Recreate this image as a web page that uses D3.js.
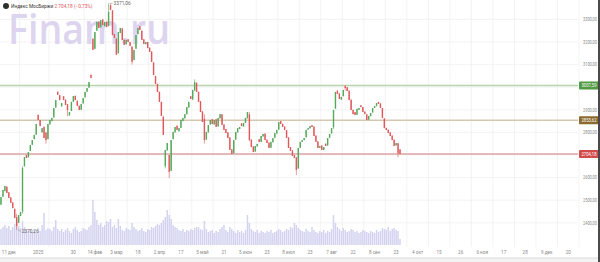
<!DOCTYPE html>
<html>
<head>
<meta charset="utf-8">
<script src="https://cdn.jsdelivr.net/npm/d3@7"></script>
<style>
html,body{margin:0;padding:0;background:#fff;overflow:hidden;}
svg{display:block;font-family:Roboto,"Noto Sans",sans-serif;}
</style>
</head>
<body>
<div id="chart"></div>
<script>
// daily candles of the index, Dec 2024 .. Sep 2025
let opens= [
2480,2515,2540,2560,2535,2512,2490,2462,2425,2400,
2430,2450,2650,2700,2690,2718,2745,2770,2790,2878,
2855,2800,2825,2800,2770,2835,2850,2866,2910,2980,
2965,2915,2960,2945,2925,2875,2895,2935,2962,2940,
2918,2900,2928,2955,2980,2998,3055,3215,3170,3250,
3290,3265,3300,3270,3290,3270,3365,3340,3235,3215,
3150,3240,3260,3210,3190,3212,3200,3180,3120,3170,
3235,3270,3250,3212,3190,3200,3175,3158,3110,3050,
3015,2980,2935,2870,2650,2720,2700,2630,2770,2800,
2830,2805,2820,2850,2862,2880,2910,2960,2945,2985,
3020,2980,2938,2893,2860,2768,2800,2835,2858,2835,
2858,2826,2862,2880,2835,2815,2800,2778,2725,2708,
2768,2800,2815,2840,2826,2842,2862,2880,2768,2738,
2715,2738,2770,2758,2782,2795,2768,2755,2732,2756,
2776,2795,2812,2850,2838,2826,2810,2778,2735,2720,
2700,2690,2640,2732,2758,2766,2778,2812,2818,2832,
2826,2786,2760,2732,2742,2722,2750,2742,2776,2795,
2822,2905,2985,2972,2945,2960,3005,3000,2985,2945,
2900,2890,2878,2900,2920,2912,2892,2880,2856,2872,
2888,2908,2916,2935,2928,2908,2862,2820,2812,2800,
2786,2768,2742,2752,2725
];
let closes= [
2514,2545,2563,2532,2510,2488,2465,2421,2386,2434,
2448,2642,2691,2687,2713,2744,2766,2789,2837,2855,
2828,2819,2775,2766,2837,2855,2864,2908,2943,2966,
2943,2930,2943,2921,2899,2890,2935,2961,2943,2917,
2899,2926,2952,2979,2996,3023,3041,3165,3244,3289,
3262,3297,3275,3289,3266,3333,3342,3231,3218,3143,
3244,3262,3209,3187,3209,3200,3182,3112,3165,3231,
3262,3253,3209,3191,3200,3173,3156,3112,3054,3014,
2979,2935,2873,2789,2722,2753,2625,2766,2802,2824,
2811,2819,2855,2864,2881,2912,2935,2948,2988,3023,
2979,2935,2890,2846,2766,2802,2833,2855,2837,2855,
2824,2864,2881,2833,2811,2797,2775,2722,2704,2766,
2802,2819,2824,2828,2842,2864,2890,2766,2735,2713,
2740,2749,2758,2784,2793,2766,2753,2731,2758,2775,
2797,2811,2846,2837,2824,2811,2775,2731,2718,2696,
2687,2634,2731,2758,2766,2775,2811,2819,2828,2824,
2784,2758,2731,2740,2722,2735,2740,2775,2793,2819,
2899,2979,2970,2948,2957,2988,2996,2983,2943,2899,
2881,2877,2904,2908,2912,2890,2881,2855,2873,2886,
2908,2917,2930,2926,2908,2864,2819,2811,2797,2784,
2766,2740,2753,2709,2704.18
];
// bars whose shadow goes past the body: [index, low, high]
let shadows= [
[8,2370.26,2440],[11,2440,2650],[55,3300,3371.06],[57,3230,3300],
[84,2640,2660],[86,2598,2700],[99,2990,3035],[104,2750,2880],
[151,2611,2690],[170,2815,2900],[176,2985,3010],[203,2690,2752],
[23,2750,2800],[34,2872,2925],[67,3100,3180],[127,2760,2890]
];
let volumes= [
32,36,40,34,38,30,36,42,44,38,
34,48,36,30,28,32,26,30,24,34,
28,40,64,30,34,32,28,36,50,32,
28,32,26,30,34,28,24,32,36,30,
26,28,34,32,30,36,40,90,66,50,
40,44,36,40,48,46,52,36,40,34,
52,38,30,28,34,32,30,44,36,32,
28,30,34,28,26,32,30,36,34,38,
42,40,44,50,56,70,60,52,40,36,
34,30,28,32,26,30,28,32,30,34,
36,36,32,30,48,32,26,28,30,24,
28,26,32,36,40,30,26,36,32,28,
24,30,26,28,24,30,60,44,32,28,
26,30,24,28,26,24,28,26,30,24,
26,28,32,30,26,28,32,30,36,34,
44,40,34,30,28,26,32,28,26,36,
30,26,24,28,26,30,24,28,26,32,
60,44,36,32,28,34,30,26,28,32,
30,26,28,24,26,30,28,26,24,28,
26,24,30,26,28,34,32,30,36,28,
32,34,30,28,12
];
let tickIdx= [4,19,37,48,59,70,81,92,103,114,125,136,147,158,169,180,191,202,213,224,235,246,257,268,279,290];
let tickLabels= ["11 дек","2025","30","14 фев","3 мар","18","2 апр","17","5 май","21","5 июн","23","8 июл","23","7 авг","22","8 сен","23","4 окт","15","26","6 ноя","17","28","9 дек","20"];
let priceTicks= [2400,2500,2600,2700,2800,2900,3000,3100,3200,3300];
let levels= [
{value:3007.59, line:"#b9d6ab", box:"#4f9a42"},
{value:2853.62, line:"#d6c7b1", box:"#8a6a2e"},
{value:2704.18, line:"#dba5a5", box:"#d24b4b"}
];
let lastPrice= 2704.18;
let lastChange= -0.73;

let width= 600;
let height= 262;
let plotRight= 578;
let volBase= 245;

let green= "#55a95b";
let red= "#e0585b";

let comma= d3.format(".2f");
let fmt= v=> comma(v).replace(".",",");

let x= d3.scaleLinear().domain([0,295]).range([1,plotRight]);
let y= d3.scaleLinear().domain([2400,3300]).range([222.8,19.4]);
let yv= d3.scaleLinear().domain([0,90]).range([volBase,volBase-45]);

let svg= d3.select("#chart").append("svg")
.attr("width",width).attr("height",height);

svg.append("rect").attr("width",width).attr("height",height).attr("fill","#fff");

// grid
let grid= svg.append("g").attr("class","grid");
grid.selectAll("line.h").data(priceTicks).enter().append("line")
.attr("x1",0).attr("x2",plotRight)
.attr("y1",d=>y(d)).attr("y2",d=>y(d))
.attr("stroke","#f0f0f0").attr("stroke-width",0.8);
grid.selectAll("line.v").data(tickIdx).enter().append("line")
.attr("x1",d=>x(d+5.5)).attr("x2",d=>x(d+5.5))
.attr("y1",0).attr("y2",247)
.attr("stroke","#f0f0f0").attr("stroke-width",0.8);

// watermark
svg.append("text").text("Finam.ru")
.attr("x",8).attr("y",44)
.attr("font-size",42).attr("font-weight",600)
.attr("font-family","'Open Sans',sans-serif")
.attr("textLength",162).attr("lengthAdjust","spacingAndGlyphs")
.attr("fill","#ddd5ef");

// volume
svg.append("g").attr("class","volume")
.selectAll("rect").data(volumes).enter().append("rect")
.attr("x",(d,i)=>x(i)-0.75)
.attr("width",1.5)
.attr("y",d=>yv(d))
.attr("height",d=>volBase-yv(d))
.attr("fill","#d3d3f1");

// level lines
svg.append("g").selectAll("line").data(levels).enter().append("line")
.attr("x1",0).attr("x2",plotRight)
.attr("y1",d=>y(d.value)).attr("y2",d=>y(d.value))
.attr("stroke",d=>d.line).attr("stroke-width",1.6);

// candles
let candles= closes.map(function(c,i){
  let o= opens[i];
  let hi= Math.max(o,c), lo= Math.min(o,c);
  shadows.forEach(function(s){
    if(s[0]===i){ lo= Math.min(lo,s[1]); hi= Math.max(hi,s[2]); }
  });
  return {i:i,o:o,c:c,hi:hi,lo:lo};
});

let cg= svg.append("g").attr("class","candles");
cg.selectAll("line").data(candles).enter().append("line")
.attr("x1",d=>x(d.i)).attr("x2",d=>x(d.i))
.attr("y1",d=>y(d.hi)).attr("y2",d=>y(d.lo))
.attr("stroke",d=>d.c>=d.o?green:red).attr("stroke-width",0.6);
cg.selectAll("rect").data(candles).enter().append("rect")
.attr("x",d=>x(d.i)-0.7)
.attr("width",1.4)
.attr("y",d=>y(Math.max(d.o,d.c)))
.attr("height",d=>Math.max(0.8,Math.abs(y(d.o)-y(d.c))))
.attr("fill",d=>d.c>=d.o?green:red);

// extreme labels
let hiBar= candles[55], loBar= candles[8];
svg.append("line").attr("x1",x(hiBar.i)+1).attr("x2",x(hiBar.i)+4)
.attr("y1",y(hiBar.hi)).attr("y2",y(hiBar.hi)).attr("stroke","#777").attr("stroke-width",0.5);
svg.append("text").text(fmt(hiBar.hi))
.attr("x",x(hiBar.i)+5).attr("y",y(hiBar.hi)+1.8)
.attr("font-size",4.8).attr("fill","#666");
svg.append("line").attr("x1",x(loBar.i)+1).attr("x2",x(loBar.i)+4)
.attr("y1",y(loBar.lo)).attr("y2",y(loBar.lo)+2).attr("stroke","#777").attr("stroke-width",0.5);
svg.append("text").text(fmt(loBar.lo))
.attr("x",x(loBar.i)+5).attr("y",y(loBar.lo)+3.8)
.attr("font-size",4.8).attr("fill","#666");

// price axis
svg.append("g").selectAll("text").data(priceTicks).enter().append("text")
.text(d=>fmt(d))
.attr("x",583).attr("y",d=>y(d)+1.7)
.attr("font-size",4.6).attr("fill","#8a8a8a")
.attr("textLength",14).attr("lengthAdjust","spacingAndGlyphs");

let lv= svg.append("g").selectAll("g").data(levels).enter().append("g");
lv.append("rect")
.attr("x",579).attr("width",20)
.attr("y",d=>y(d.value)-4).attr("height",8).attr("rx",1)
.attr("fill",d=>d.box);
lv.append("text").text(d=>fmt(d.value))
.attr("x",581.5).attr("y",d=>y(d.value)+1.7)
.attr("font-size",4.6).attr("fill","#fff")
.attr("textLength",15).attr("lengthAdjust","spacingAndGlyphs");

// time axis
svg.append("g").selectAll("text").data(tickIdx).enter().append("text")
.text((d,i)=>tickLabels[i])
.attr("x",d=>x(d)).attr("y",253.5)
.attr("text-anchor","middle")
.attr("font-size",4.6).attr("fill","#8a8a8a");

svg.append("rect").attr("x",0).attr("y",258).attr("width",width).attr("height",4).attr("fill","#f3f3f3");
svg.append("line").attr("x1",0).attr("x2",width).attr("y1",258).attr("y2",258)
.attr("stroke","#dcdcdc").attr("stroke-width",1);
svg.append("rect").attr("x",598).attr("y",0).attr("width",2).attr("height",height).attr("fill","#4a4a4a");

// header
svg.append("circle").attr("cx",6).attr("cy",6).attr("r",3).attr("fill","#2f2f2f");
let num= d3.format(",.2f")(lastPrice).replace(/,/g," ").replace(".",",");
let head= svg.append("text").attr("x",11).attr("y",7.8).attr("font-size",4.8);
head.append("tspan").text("Индекс МосБиржи").attr("fill","#333");
head.append("tspan").text(" "+num+" ("+fmt(lastChange)+"%)").attr("fill",red);
</script>
</body>
</html>
